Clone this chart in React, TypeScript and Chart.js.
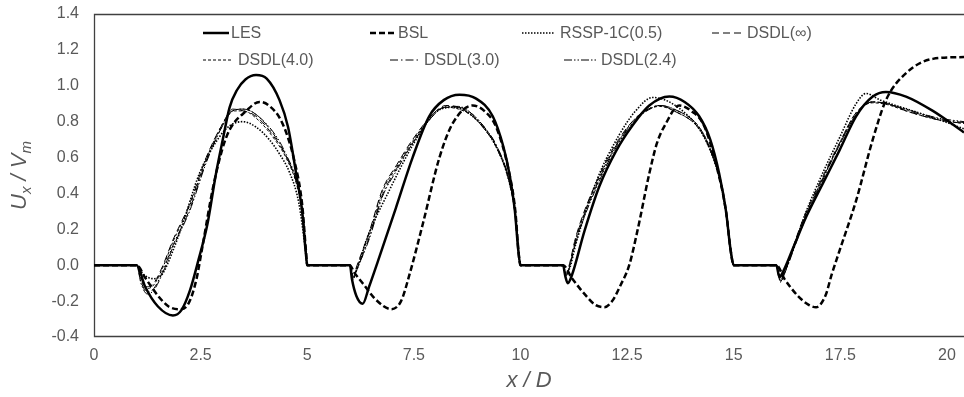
import React, { useEffect, useRef } from "react";
import { Chart, registerables } from "chart.js";
Chart.register(...registerables);

// ---------- data ----------
const SERIES_NAMES = ["LES", "BSL", "RSSP-1C(0.5)", "DSDL(∞)", "DSDL(4.0)", "DSDL(3.0)", "DSDL(2.4)"];

const X_TICKS = [0, 2.5, 5, 7.5, 10, 12.5, 15, 17.5, 20];
const Y_TICKS = [-0.4, -0.2, 0.0, 0.2, 0.4, 0.6, 0.8, 1.0, 1.2, 1.4];

const lesX = [0, 1.0, 1.2, 1.5, 1.85, 2.05, 2.25, 2.45, 2.66, 2.86, 3.02, 3.18, 3.35, 3.55, 3.8, 4.05, 4.35, 4.55, 4.74, 4.88, 4.97, 5.0,
  6.0, 6.05, 6.15, 6.3, 6.45, 6.69, 7.08, 7.47, 7.86, 8.2, 8.57, 8.95, 9.35, 9.6, 9.74, 9.87, 9.95, 10.0,
  11.0, 11.05, 11.11, 11.2, 11.5, 11.85, 12.25, 12.63, 13.02, 13.49, 13.85, 14.19, 14.45, 14.66, 14.82, 14.93, 15.0,
  16.0, 16.07, 16.15, 16.4, 16.7, 17.1, 17.48, 17.87, 18.26, 18.57, 19.04, 19.67, 20.4];
const lesY = [0, 0, -0.12, -0.23, -0.28, -0.25, -0.14, 0.03, 0.23, 0.51, 0.70, 0.88, 0.975, 1.035, 1.06, 1.04, 0.92, 0.77, 0.51, 0.3, 0.06, 0,
  0, -0.08, -0.17, -0.215, -0.12, 0.045, 0.32, 0.60, 0.83, 0.92, 0.95, 0.93, 0.83, 0.66, 0.51, 0.3, 0.08, 0,
  0, -0.06, -0.10, -0.06, 0.19, 0.44, 0.64, 0.78, 0.89, 0.94, 0.91, 0.83, 0.70, 0.51, 0.3, 0.08, 0,
  0, -0.066, -0.04, 0.1, 0.27, 0.46, 0.64, 0.83, 0.94, 0.966, 0.94, 0.86, 0.74];

const bslX = [0, 1.0, 1.2, 1.5, 1.75, 2.0, 2.2, 2.4, 2.54, 2.78, 3.0, 3.17, 3.57, 3.88, 4.1, 4.42, 4.7, 4.88, 4.97, 5.0,
  6.0, 6.1, 6.3, 6.6, 6.97, 7.2, 7.4, 7.71, 8.1, 8.41, 8.88, 9.15, 9.43, 9.74, 9.88, 9.96, 10.0,
  11.0, 11.2, 11.5, 11.75, 11.97, 12.15, 12.35, 12.55, 12.75, 13.02, 13.2, 13.41, 13.72, 14.0, 14.3, 14.6, 14.82, 14.93, 15.0,
  16.0, 16.2, 16.5, 16.75, 16.93, 17.15, 17.3, 17.48, 17.87, 18.26, 18.57, 19.04, 19.67, 20.4];
const bslY = [0, 0, -0.07, -0.17, -0.23, -0.245, -0.22, -0.08, 0.10, 0.42, 0.64, 0.75, 0.86, 0.91, 0.89, 0.79, 0.58, 0.34, 0.08, 0,
  0, -0.04, -0.10, -0.19, -0.245, -0.2, -0.05, 0.23, 0.60, 0.79, 0.89, 0.86, 0.77, 0.51, 0.3, 0.06, 0,
  0, -0.07, -0.16, -0.22, -0.234, -0.2, -0.11, 0.0, 0.2, 0.51, 0.68, 0.79, 0.89, 0.86, 0.78, 0.55, 0.3, 0.08, 0,
  0, -0.08, -0.17, -0.22, -0.234, -0.17, -0.05, 0.08, 0.36, 0.70, 0.92, 1.07, 1.15, 1.16];

const rsspX = [0, 1.0, 1.15, 1.4, 1.6, 1.85, 2.08, 2.47, 2.94, 3.2, 3.49, 3.8, 4.11, 4.35, 4.58, 4.8, 4.95, 5.0,
  6.0, 6.07, 6.15, 6.4, 6.93, 7.5, 8.0, 8.4, 8.88, 9.43, 9.74, 9.88, 9.96, 10.0,
  11.0, 11.05, 11.15, 11.3, 11.8, 12.3, 12.7, 13.1, 13.4, 13.8, 14.19, 14.45, 14.66, 14.82, 14.93, 15.0,
  16.0, 16.1, 16.2, 16.7, 17.1, 17.48, 17.87, 18.1, 18.44, 19.2, 19.82, 20.4];
const rsspY = [0, 0, -0.05, -0.075, -0.05, 0.08, 0.23, 0.51, 0.715, 0.78, 0.80, 0.77, 0.70, 0.62, 0.52, 0.35, 0.1, 0,
  0, -0.05, -0.03, 0.15, 0.42, 0.68, 0.85, 0.88, 0.83, 0.66, 0.46, 0.28, 0.06, 0,
  0, -0.04, -0.02, 0.12, 0.48, 0.72, 0.86, 0.935, 0.92, 0.86, 0.76, 0.64, 0.49, 0.30, 0.08, 0,
  0, -0.07, -0.03, 0.30, 0.52, 0.71, 0.90, 0.957, 0.92, 0.86, 0.81, 0.76];

const dsdlX = [0, 1.0, 1.1, 1.25, 1.4, 1.6, 1.85, 2.24, 2.63, 3.02, 3.25, 3.5, 3.8, 4.27, 4.5, 4.75, 4.9, 4.97, 5.0,
  6.0, 6.04, 6.08, 6.14, 6.46, 6.76, 7.1, 7.47, 7.98, 8.25, 8.55, 8.88, 9.15, 9.43, 9.74, 9.88, 9.96, 10.0,
  11.0, 11.03, 11.07, 11.13, 11.3, 11.85, 12.3, 12.7, 13.0, 13.26, 13.6, 14.19, 14.45, 14.66, 14.82, 14.93, 15.0,
  16.0, 16.05, 16.1, 16.18, 16.6, 17.1, 17.48, 17.87, 18.26, 18.6, 19.04, 19.8, 20.4];
const dsdlInfY = [0, 0, -0.07, -0.12, -0.10, -0.01, 0.14, 0.34, 0.60, 0.79, 0.87, 0.86, 0.83, 0.70, 0.61, 0.46, 0.28, 0.08, 0,
  0, -0.04, -0.065, -0.02, 0.19, 0.42, 0.56, 0.70, 0.85, 0.89, 0.88, 0.83, 0.76, 0.66, 0.46, 0.28, 0.07, 0,
  0, -0.03, -0.045, -0.01, 0.16, 0.50, 0.70, 0.82, 0.87, 0.89, 0.86, 0.76, 0.64, 0.49, 0.30, 0.08, 0,
  0, -0.05, -0.08, -0.04, 0.24, 0.50, 0.68, 0.85, 0.91, 0.90, 0.86, 0.81, 0.79];
const dsdl40Y = [0, 0, -0.08, -0.13, -0.11, -0.02, 0.13, 0.33, 0.59, 0.79, 0.86, 0.86, 0.82, 0.69, 0.60, 0.45, 0.27, 0.08, 0,
  0, -0.04, -0.07, -0.03, 0.18, 0.41, 0.55, 0.69, 0.85, 0.88, 0.87, 0.83, 0.76, 0.66, 0.46, 0.28, 0.07, 0,
  0, -0.03, -0.05, -0.02, 0.15, 0.49, 0.69, 0.82, 0.87, 0.885, 0.86, 0.76, 0.64, 0.49, 0.30, 0.08, 0,
  0, -0.05, -0.085, -0.05, 0.23, 0.49, 0.68, 0.85, 0.905, 0.895, 0.86, 0.81, 0.79];
const dsdl30Y = [0, 0, -0.09, -0.15, -0.13, -0.04, 0.11, 0.31, 0.58, 0.78, 0.86, 0.87, 0.84, 0.71, 0.61, 0.46, 0.27, 0.08, 0,
  0, -0.05, -0.075, -0.04, 0.16, 0.39, 0.54, 0.68, 0.84, 0.88, 0.88, 0.84, 0.77, 0.67, 0.47, 0.28, 0.07, 0,
  0, -0.035, -0.055, -0.025, 0.14, 0.48, 0.69, 0.81, 0.87, 0.89, 0.87, 0.77, 0.65, 0.50, 0.30, 0.08, 0,
  0, -0.055, -0.09, -0.05, 0.22, 0.49, 0.67, 0.84, 0.91, 0.90, 0.865, 0.815, 0.795];
const dsdl24Y = [0, 0, -0.10, -0.16, -0.14, -0.05, 0.10, 0.30, 0.57, 0.78, 0.86, 0.87, 0.84, 0.72, 0.62, 0.47, 0.28, 0.08, 0,
  0, -0.05, -0.08, -0.04, 0.15, 0.38, 0.53, 0.68, 0.84, 0.885, 0.885, 0.84, 0.77, 0.67, 0.47, 0.28, 0.07, 0,
  0, -0.04, -0.06, -0.03, 0.13, 0.47, 0.68, 0.81, 0.865, 0.89, 0.87, 0.77, 0.65, 0.50, 0.30, 0.08, 0,
  0, -0.06, -0.095, -0.055, 0.21, 0.48, 0.67, 0.84, 0.91, 0.90, 0.87, 0.82, 0.80];

// ---------- styles ----------
const FONT = "'Liberation Sans', Arial, sans-serif";
const TEXT = "#595959";

const STYLES = [
  { width: 2.5, dash: [] as number[] },
  { width: 2.5, dash: [6, 3] },
  { width: 1.6, dash: [1.5, 1.5] },
  { width: 1, dash: [7, 4] },
  { width: 1, dash: [3, 2] },
  { width: 1, dash: [8, 3, 1.5, 3] },
  { width: 1, dash: [8, 2, 1.5, 2, 1.5, 2] },
];

// legend layout: [lineStart, lineEnd, textStart, rowY]
const LEGEND_POS = [
  [203, 229, 231, 33],
  [370, 396, 398, 33],
  [522, 554, 560, 33],
  [712, 743, 747, 33],
  [203, 233, 238, 60],
  [390, 420, 424, 60],
  [564, 598, 601, 60],
];

const pts = (xs: number[], ys: number[]) => xs.map((x, i) => ({ x, y: ys[i] }));

const decor = {
  id: "decor",
  beforeDatasetsDraw(chart: any) {
    const { ctx, chartArea: a } = chart;
    ctx.save();
    ctx.strokeStyle = "#404040";
    ctx.lineWidth = 1.3;
    ctx.beginPath();
    ctx.moveTo(a.right + 5, a.top + 0.5);
    ctx.lineTo(a.left + 0.5, a.top + 0.5);
    ctx.lineTo(a.left + 0.5, a.bottom - 0.5);
    ctx.lineTo(a.right + 5, a.bottom - 0.5);
    ctx.stroke();
    ctx.restore();
  },
  afterDraw(chart: any) {
    const { ctx, chartArea: a } = chart;
    ctx.save();
    // legend
    ctx.font = `16px ${FONT}`;
    ctx.textBaseline = "middle";
    ctx.textAlign = "left";
    SERIES_NAMES.forEach((name, i) => {
      const [x1, x2, tx, y] = LEGEND_POS[i];
      const s = STYLES[i];
      ctx.strokeStyle = "#000";
      ctx.lineWidth = s.width;
      ctx.setLineDash(s.dash);
      ctx.beginPath();
      ctx.moveTo(x1, y);
      ctx.lineTo(x2, y);
      ctx.stroke();
      ctx.setLineDash([]);
      ctx.fillStyle = TEXT;
      ctx.fillText(name, tx, y + 1);
    });

    // x title: x / D
    ctx.fillStyle = TEXT;
    ctx.font = `italic 22px ${FONT}`;
    ctx.textAlign = "center";
    ctx.textBaseline = "middle";
    ctx.fillText("x / D", (a.left + a.right) / 2, 381);

    // y title: U_x / V_m (rotated)
    ctx.translate(18, (a.top + a.bottom) / 2);
    ctx.rotate(-Math.PI / 2);
    const big = `italic 22px ${FONT}`;
    const small = `italic 15px ${FONT}`;
    const parts: [string, string, number][] = [
      ["U", big, 0],
      ["x", small, 5],
      [" / ", big, 0],
      ["V", big, 0],
      ["m", small, 5],
    ];
    let total = 0;
    parts.forEach(([t, f]) => { ctx.font = f; total += ctx.measureText(t).width; });
    let cx = -total / 2;
    ctx.textAlign = "left";
    ctx.textBaseline = "alphabetic";
    parts.forEach(([t, f, dy]) => {
      ctx.font = f;
      ctx.fillText(t, cx, 8 + dy);
      cx += ctx.measureText(t).width;
    });
    ctx.restore();
  },
};

export default function App() {
  const ref = useRef<HTMLCanvasElement | null>(null);
  useEffect(() => {
    if (!ref.current) return;
    const sets = [
      [lesX, lesY], [bslX, bslY], [rsspX, rsspY],
      [dsdlX, dsdlInfY], [dsdlX, dsdl40Y], [dsdlX, dsdl30Y], [dsdlX, dsdl24Y],
    ];
    const chart = new Chart(ref.current, {
      type: "line",
      data: {
        datasets: sets.map(([xs, ys], i) => ({
          label: SERIES_NAMES[i],
          data: pts(xs, ys),
          borderColor: "#000",
          borderWidth: STYLES[i].width,
          borderDash: STYLES[i].dash,
          pointRadius: 0,
          fill: false,
          cubicInterpolationMode: "monotone" as const,
          order: i < 2 ? 0 : 1,
        })),
      },
      options: {
        animation: false,
        responsive: false,
        events: [],
        layout: { padding: { top: 14, right: 0, left: 0, bottom: 0 } },
        plugins: { legend: { display: false }, tooltip: { enabled: false } },
        scales: {
          x: {
            type: "linear",
            min: 0,
            max: 20.4,
            afterFit: (s: any) => { s.height = 60; s.paddingLeft = 0; s.paddingRight = 0; },
            afterBuildTicks: (s: any) => { s.ticks = X_TICKS.map((v) => ({ value: v })); },
            ticks: {
              padding: 9,
              color: TEXT,
              font: { family: FONT, size: 16 },
              callback: (v: any) => String(v),
              maxRotation: 0,
              autoSkip: false,
            },
            grid: { display: false, drawTicks: false },
            border: { display: false },
          },
          y: {
            type: "linear",
            min: -0.4,
            max: 1.4,
            afterFit: (s: any) => { s.width = 94; s.paddingTop = 0; s.paddingBottom = 0; },
            afterBuildTicks: (s: any) => { s.ticks = Y_TICKS.map((v) => ({ value: v })); },
            ticks: {
              padding: 15,
              color: TEXT,
              font: { family: FONT, size: 16 },
              callback: (v: any) => Number(v).toFixed(1),
            },
            grid: { display: false, drawTicks: false },
            border: { display: false },
          },
        },
      },
      plugins: [decor],
    });
    return () => chart.destroy();
  }, []);
  return (
    <div style={{ position: "absolute", left: 0, top: 0, width: 964, height: 397, background: "#fff" }}>
      <canvas ref={ref} width={964} height={397} />
    </div>
  );
}
